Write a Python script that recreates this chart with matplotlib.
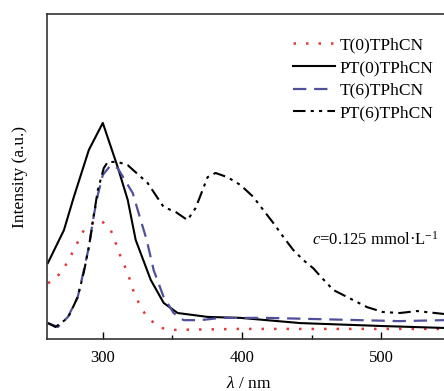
import numpy as np
import matplotlib
matplotlib.use("Agg")
import matplotlib.pyplot as plt

plt.rcParams['font.family'] = ['Liberation Serif', 'DejaVu Serif']
plt.rcParams['mathtext.fontset'] = 'custom'
plt.rcParams['mathtext.rm'] = 'Liberation Serif'
plt.rcParams['mathtext.it'] = 'Liberation Serif:italic'

# Spectra (wavelength in nm, intensity in a.u.)
t0_wl = [260.6, 265, 271.4, 278.5, 282.8, 286.4, 293.6, 298.6, 305.7, 309.3,
         312.9, 317.9, 322.2, 327.2, 332.2, 341.5, 350.8, 398.8, 545]
t0_int = [0.172, 0.182, 0.212, 0.268, 0.305, 0.335, 0.36, 0.366, 0.335, 0.295,
          0.252, 0.203, 0.145, 0.098, 0.065, 0.034, 0.028, 0.031, 0.031]

pt0_wl = [260.6, 272.1, 279.2, 290, 300, 310.7, 317.9, 323.6, 334.4, 343.7,
          353.7, 375.2, 398.8, 441.7, 500, 545]
pt0_int = [0.234, 0.335, 0.437, 0.582, 0.665, 0.529, 0.428, 0.305, 0.182,
           0.111, 0.080, 0.068, 0.065, 0.049, 0.040, 0.034]

t6_wl = [260.6, 267.8, 275, 282, 286.4, 290, 293.6, 296.4, 300, 305.7, 310.7,
         315, 321.5, 327.2, 331.5, 336.5, 343.7, 350.8, 358, 370.2, 384.5,
         418, 513, 545]
t6_int = [0.049, 0.037, 0.068, 0.129, 0.212, 0.283, 0.382, 0.443, 0.505,
          0.535, 0.526, 0.495, 0.449, 0.366, 0.305, 0.212, 0.129, 0.080,
          0.058, 0.058, 0.065, 0.065, 0.055, 0.058]

pt6_wl = [260.6, 266, 275, 282, 286.4, 290, 293.6, 296.4, 300.7, 303.6, 310.7,
          317.9, 332.2, 343.7, 352.3, 360.8, 366.6, 371.6, 375.2, 380.9,
          389.5, 398.8, 408.1, 415.2, 422.4, 429.6, 436.7, 443.9, 451, 456,
          465.4, 489.7, 501.1, 513.3, 525.5, 545]
pt6_int = [0.049, 0.037, 0.065, 0.129, 0.206, 0.283, 0.382, 0.458, 0.526,
           0.545, 0.545, 0.535, 0.48, 0.406, 0.391, 0.366, 0.403, 0.458,
           0.498, 0.511, 0.498, 0.474, 0.437, 0.397, 0.357, 0.314, 0.274,
           0.243, 0.218, 0.194, 0.151, 0.098, 0.083, 0.080, 0.086, 0.077]

labels = ['T(0)TPhCN', 'PT(0)TPhCN', 'T(6)TPhCN', 'PT(6)TPhCN']

fig = plt.figure(figsize=(4.44, 3.91), dpi=100)
# right edge of the axes sits just outside the picture, as in the original
ax = fig.add_axes([0.106, 0.133, 0.91, 0.831])

ax.plot(t0_wl, t0_int, color='#e03a3a', linestyle=(0, (1, 4)), lw=1.8,
        label=labels[0])
ax.plot(pt0_wl, pt0_int, color='black', linestyle='-', lw=1.5,
        label=labels[1])
ax.plot(t6_wl, t6_int, color='#50509a', linestyle=(0, (6, 3.5)), lw=1.6,
        label=labels[2])
ax.plot(pt6_wl, pt6_int, color='black',
        linestyle=(0, (6, 2.5, 1.5, 2.5, 1.5, 2.5)), lw=1.5, label=labels[3])

ax.set_xlim(260, 550)
ax.set_ylim(0, 1)
ax.set_xticks([300, 400, 500])
ax.set_xticks([350, 450], minor=True)
ax.set_yticks([])
ax.tick_params(axis='x', which='major', direction='in', length=5, width=1,
               labelsize=12, pad=8)
ax.tick_params(axis='x', which='minor', direction='in', length=3, width=1)
for s in ax.spines.values():
    s.set_linewidth(1.2)
    s.set_color('#333333')

ax.set_xlabel(r'$\lambda$ / nm', fontsize=12.5, labelpad=7)
ax.set_ylabel('Intensity (a.u.)', fontsize=12.5, labelpad=14)

ax.text(0.656, 0.305, r'$c$=0.125 mmol·L$^{-1}$', transform=ax.transAxes,
        fontsize=12, ha='left', va='center')

ax.legend(loc='upper left', bbox_to_anchor=(293 / 444, 1 - 37 / 391),
          bbox_transform=fig.transFigure, frameon=False, fontsize=12.5,
          handlelength=2.4, handletextpad=0.3, labelspacing=0.38,
          borderpad=0, borderaxespad=0)

fig.savefig('out.png', dpi=100)
